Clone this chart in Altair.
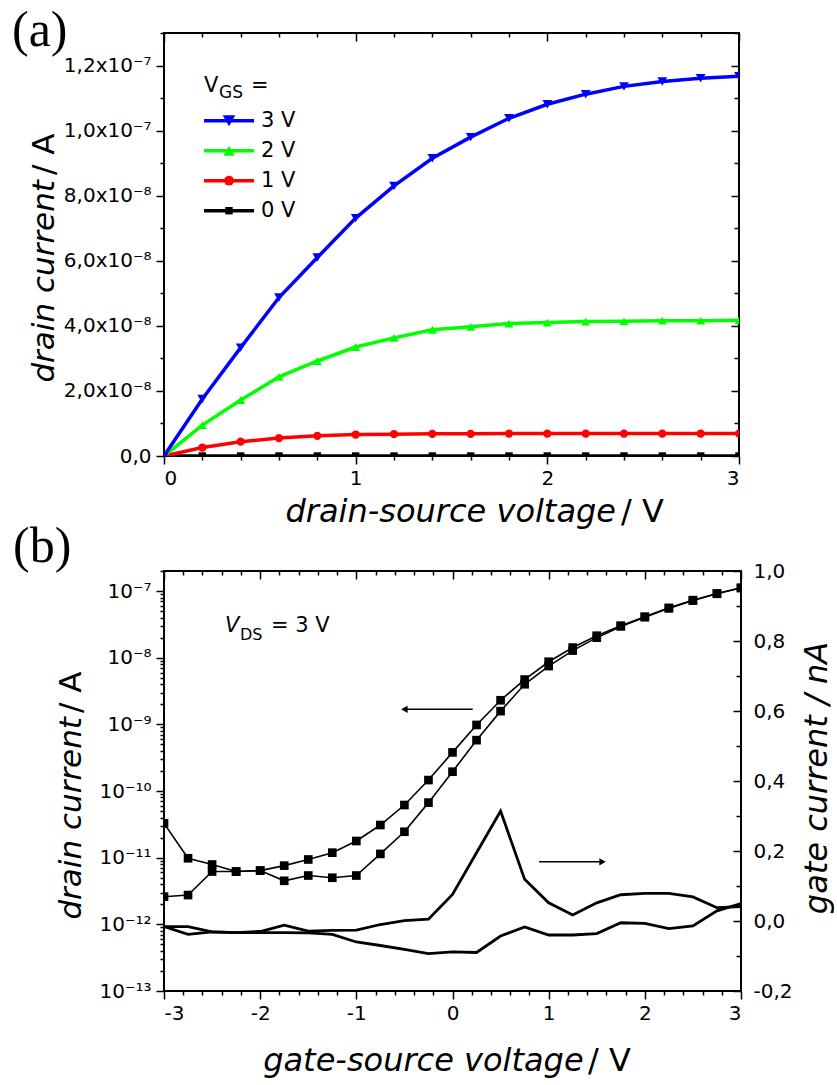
import json
import altair as alt
import pandas as pd

# ---------------- (a) output characteristics ----------------
vds = [0.0, 0.2, 0.4, 0.6, 0.8, 1.0, 1.2, 1.4, 1.6, 1.8, 2.0, 2.2, 2.4, 2.6, 2.8, 3.0]
id_vgs3 = [0.0, 1.75e-8, 3.33e-8, 4.87e-8, 6.10e-8, 7.31e-8, 8.30e-8, 9.15e-8, 9.80e-8,
           10.38e-8, 10.81e-8, 11.12e-8, 11.36e-8, 11.51e-8, 11.61e-8, 11.67e-8]
id_vgs2 = [0.0, 0.95e-8, 1.72e-8, 2.43e-8, 2.92e-8, 3.35e-8, 3.63e-8, 3.88e-8, 3.97e-8,
           4.07e-8, 4.10e-8, 4.13e-8, 4.14e-8, 4.16e-8, 4.16e-8, 4.17e-8]
id_vgs1 = [0.0, 0.26e-8, 0.44e-8, 0.55e-8, 0.62e-8, 0.66e-8, 0.67e-8, 0.68e-8, 0.68e-8,
           0.69e-8, 0.69e-8, 0.69e-8, 0.69e-8, 0.69e-8, 0.69e-8, 0.69e-8]
id_vgs0 = [0.0, 0.0, 0.0, 0.0, 0.0, 0.0, 0.0, 0.0, 0.0, 0.0, 0.0, 0.0, 0.0, 0.0, 0.0, 0.0]

series_a = ["0 V", "1 V", "2 V", "3 V"]
colors_a = ["#000000", "#FF0000", "#00FF00", "#0000FF"]
shapes_a = ["square", "circle", "triangle-up", "triangle-down"]
sizes_a = [55, 95, 130, 160]
curves_a = [id_vgs0, id_vgs1, id_vgs2, id_vgs3]

ylabels_a = ["0,0", "2,0x10⁻⁸", "4,0x10⁻⁸", "6,0x10⁻⁸", "8,0x10⁻⁸", "1,0x10⁻⁷", "1,2x10⁻⁷"]

# ---------------- (b) transfer characteristics ----------------
vgs = [-3.0, -2.75, -2.5, -2.25, -2.0, -1.75, -1.5, -1.25, -1.0, -0.75, -0.5, -0.25, 0.0,
       0.25, 0.5, 0.75, 1.0, 1.25, 1.5, 1.75, 2.0, 2.25, 2.5, 2.75, 3.0]
id_fwd = [3.27e-11, 9.8e-12, 7.9e-12, 6.2e-12, 6.4e-12, 7.6e-12, 9.4e-12, 1.19e-11, 1.78e-11,
          3.09e-11, 6.17e-11, 1.46e-10, 3.8e-10, 9.8e-10, 2.3e-9, 4.7e-9, 8.7e-9, 1.42e-8,
          2.14e-8, 3.03e-8, 4.13e-8, 5.6e-8, 7.3e-8, 9.2e-8, 1.12e-7]
id_rev = [2.6e-12, 2.75e-12, 6.2e-12, 6.2e-12, 6.4e-12, 4.5e-12, 5.4e-12, 5.0e-12, 5.4e-12,
          1.14e-11, 2.45e-11, 6.7e-11, 1.95e-10, 5.8e-10, 1.58e-9, 4.0e-9, 7.5e-9, 1.28e-8,
          2.0e-8, 2.95e-8, 4.05e-8, 5.5e-8, 7.2e-8, 9.1e-8, 1.11e-7]
ig_1 = [-0.016, -0.016, -0.031, -0.033, -0.030, -0.012, -0.029, -0.027, -0.026, -0.010,
        0.001, 0.005, 0.076, 0.195, 0.314, 0.119, 0.052, 0.017, 0.052, 0.075, 0.079, 0.079,
        0.069, 0.038, 0.041]
ig_2 = [-0.016, -0.038, -0.031, -0.033, -0.033, -0.033, -0.034, -0.038, -0.060, -0.070,
        -0.081, -0.093, -0.088, -0.090, -0.043, -0.017, -0.040, -0.040, -0.036, -0.005,
        -0.007, -0.022, -0.014, 0.029, 0.050]

log_labels = ["10⁻¹³", "10⁻¹²", "10⁻¹¹", "10⁻¹⁰", "10⁻⁹", "10⁻⁸", "10⁻⁷"]

arrow_left_x = [0.21, -0.50]
arrow_left_y = [1.68e-9]
arrow_right_x = [0.90, 1.56]
arrow_right_y = [0.169]

# ---------------- helpers ----------------
FONT = "DejaVu Sans"
dummy = pd.DataFrame({"d": [0]})


def txt(x, y, s, size=20, style="normal", align="left", baseline="alphabetic",
        angle=0, font=FONT):
    kw = dict(fontSize=size, fontStyle=style, align=align, baseline=baseline,
              font=font, color="black")
    if angle:
        kw["angle"] = angle
    return alt.Chart(dummy).mark_text(**kw).encode(
        x=alt.value(x), y=alt.value(y), text=alt.value(s))


# ---------------- panel (a) ----------------
WA, HA = 575, 423
rows = []
for name, ys in zip(series_a, curves_a):
    for xv, yv in zip(vds, ys):
        rows.append({"series": name, "vds": xv, "id": yv})
df_a = pd.DataFrame(rows)

xs_a = alt.Scale(domain=[0, 3], nice=False, zero=False)
ys_a = alt.Scale(domain=[0, 1.3e-7], nice=False)
col_a = alt.Scale(domain=series_a, range=colors_a)
shp_a = alt.Scale(domain=series_a, range=shapes_a)
siz_a = alt.Scale(domain=series_a, range=sizes_a)

xt_a = [round(i * 0.2, 1) for i in range(16)]
yt_a = [round(i * 1e-8, 10) for i in range(14)]
x_major = "abs(datum.value - round(datum.value)) < 0.001"
y_major_a = "abs(datum.value/2e-8 - round(datum.value/2e-8)) < 0.01"

ax_a_bottom = alt.Axis(orient="bottom", values=xt_a, title=None,
                       labelExpr=f"{x_major} ? toString(round(datum.value)) : ''",
                       tickSize={"condition": {"test": x_major, "value": 8}, "value": 4},
                       labelPadding=4)
ax_a_top = alt.Axis(orient="bottom", offset=-HA, values=xt_a, title=None, labels=False,
                    tickSize={"condition": {"test": x_major, "value": 8}, "value": 4})
ax_a_left = alt.Axis(orient="left", values=yt_a, title=None,
                     labelExpr=f"{y_major_a} ? {json.dumps(ylabels_a, ensure_ascii=False)}[round(datum.value/2e-8)] : ''",
                     tickSize={"condition": {"test": y_major_a, "value": 8}, "value": 4},
                     labelPadding=5)
ax_a_right = alt.Axis(orient="left", offset=-WA, values=yt_a, title=None, labels=False,
                      tickSize={"condition": {"test": y_major_a, "value": 8}, "value": 5})

lines_a = alt.Chart(df_a).mark_line(strokeWidth=3.5, clip=True).encode(
    x=alt.X("vds:Q", scale=xs_a, axis=ax_a_bottom),
    y=alt.Y("id:Q", scale=ys_a, axis=ax_a_left),
    color=alt.Color("series:N", scale=col_a, legend=None),
)
points_a = alt.Chart(df_a).mark_point(filled=True, opacity=1, clip=True).encode(
    x=alt.X("vds:Q", scale=xs_a, axis=ax_a_top),
    y=alt.Y("id:Q", scale=ys_a, axis=ax_a_right),
    color=alt.Color("series:N", scale=col_a, legend=None),
    shape=alt.Shape("series:N", scale=shp_a, legend=None),
    size=alt.Size("series:O", scale=siz_a, legend=None),
)

legend_layers = [
    txt(40, 59, "V", size=21),
    txt(55, 65, "GS", size=17),
    txt(87, 59, "=", size=21),
]
for i, idx in enumerate([3, 2, 1, 0]):
    yy = 87.7 + 30 * i
    c = colors_a[idx]
    legend_layers.append(alt.Chart(dummy).mark_rule(color=c, strokeWidth=3.5).encode(
        x=alt.value(40), x2=alt.value(90), y=alt.value(yy)))
    legend_layers.append(alt.Chart(dummy).mark_point(
        shape=shapes_a[idx], filled=True, opacity=1, size=sizes_a[idx], color=c).encode(
        x=alt.value(65), y=alt.value(yy)))
    legend_layers.append(txt(97, yy, series_a[idx], size=21, baseline="middle"))

titles_a = [
    txt(-152, 12.7, "(a)", size=50, font="Liberation Serif"),
    txt(452, 489, "drain-source voltage", size=32, style="italic", align="right"),
    txt(457, 489, "/ V", size=32),
    txt(-119, 147, "drain current", size=31, style="italic", align="right",
        baseline="middle", angle=270),
    txt(-119, 142, "/  A", size=31, align="left", baseline="middle", angle=270),
]

panel_a = alt.layer(lines_a, points_a, *legend_layers, *titles_a).resolve_axis(
    x="independent", y="independent").properties(width=WA, height=HA)

# ---------------- panel (b) ----------------
WB, HB = 577, 420
df_d = pd.DataFrame(
    [{"sweep": "fwd", "vgs": a, "id": b} for a, b in zip(vgs, id_fwd)] +
    [{"sweep": "rev", "vgs": a, "id": b} for a, b in zip(vgs, id_rev)])
df_g1 = pd.DataFrame({"vgs": vgs, "ig": ig_1})
df_g2 = pd.DataFrame({"vgs": vgs, "ig": ig_2})

xs_b = alt.Scale(domain=[-3, 3], nice=False, zero=False)
ys_log = alt.Scale(type="log", domain=[1e-13, 2e-7], nice=False)
ys_g = alt.Scale(domain=[-0.2, 1.0], nice=False, zero=False)

xt_b = [round(-3 + i * 0.2, 1) for i in range(31)]
yt_log = [m * 10.0 ** e for e in range(-13, -6) for m in range(1, 10) if m * 10.0 ** e <= 2.01e-7]
yt_g = [round(-0.2 + 0.1 * i, 1) for i in range(13)]
log_major = "abs(log(datum.value)/LN10 - round(log(datum.value)/LN10)) < 0.01"
g_major = "abs(datum.value*5 - round(datum.value*5)) < 0.001"

ax_b_bottom = alt.Axis(orient="bottom", values=xt_b, title=None,
                       labelExpr=f"{x_major} ? toString(round(datum.value)) : ''",
                       tickSize={"condition": {"test": x_major, "value": 8}, "value": 4},
                       labelPadding=4)
ax_b_top = alt.Axis(orient="bottom", offset=-HB, values=xt_b, title=None, labels=False,
                    tickSize={"condition": {"test": x_major, "value": 8}, "value": 4})
ax_b_left = alt.Axis(orient="left", values=yt_log, title=None,
                     labelExpr=f"{log_major} ? {json.dumps(log_labels, ensure_ascii=False)}[round(log(datum.value)/LN10) + 13] : ''",
                     tickSize={"condition": {"test": log_major, "value": 8}, "value": 4},
                     labelPadding=5)
ax_g_right = alt.Axis(orient="right", values=yt_g, title=None, ticks=False,
                      labelExpr=f"{g_major} ? replace(replace(format(datum.value, '.1f'), '.', ','), '\u2212', '-') : ''",
                      labelPadding=12)
ax_g_ticks = alt.Axis(orient="left", offset=-WB, values=yt_g, title=None, labels=False,
                      tickSize={"condition": {"test": g_major, "value": 8}, "value": 5})

drain_lines = alt.Chart(df_d).mark_line(color="black", strokeWidth=1.6, clip=True).encode(
    x=alt.X("vgs:Q", scale=xs_b, axis=ax_b_bottom),
    y=alt.Y("id:Q", scale=ys_log, axis=ax_b_left),
    detail="sweep:N",
)
drain_pts = alt.Chart(df_d).mark_point(shape="square", filled=True, opacity=1, size=75,
                                       color="black", clip=True).encode(
    x=alt.X("vgs:Q", scale=xs_b, axis=ax_b_bottom),
    y=alt.Y("id:Q", scale=ys_log, axis=ax_b_left),
)
df_arl = pd.DataFrame({"x0": [arrow_left_x[0]], "x1": [arrow_left_x[1]], "y": arrow_left_y})
arl_rule = alt.Chart(df_arl).mark_rule(color="black", strokeWidth=1.5).encode(
    x=alt.X("x0:Q", scale=xs_b, axis=ax_b_bottom), x2="x1:Q",
    y=alt.Y("y:Q", scale=ys_log, axis=ax_b_left))
arl_head = alt.Chart(df_arl).mark_point(shape="triangle-left", filled=True, opacity=1,
                                        size=55, color="black").encode(
    x=alt.X("x1:Q", scale=xs_b, axis=ax_b_bottom),
    y=alt.Y("y:Q", scale=ys_log, axis=ax_b_left))

texts_b = [
    txt(-151, -8.7, "(b)", size=50, font="Liberation Serif"),
    txt(61, 61, "V", size=21, style="italic"),
    txt(76, 69, "DS", size=16),
    txt(107, 61, "= 3 V", size=21),
    txt(419.6, 500, "gate-source voltage", size=32, style="italic", align="right"),
    txt(424, 500, "/ V", size=32),
    txt(-92, 146, "drain current", size=31, style="italic", align="right",
        baseline="middle", angle=270),
    txt(-92, 142, "/ A", size=31, align="left", baseline="middle", angle=270),
    txt(653, 207, "gate current / nA", size=32, style="italic", align="center",
        baseline="middle", angle=270),
]

drain_group = alt.layer(drain_lines, drain_pts, arl_rule, arl_head, *texts_b)

gate1 = alt.Chart(df_g1).mark_line(color="black", strokeWidth=2.8, clip=True).encode(
    x=alt.X("vgs:Q", scale=xs_b, axis=ax_b_top),
    y=alt.Y("ig:Q", scale=ys_g, axis=ax_g_right))
gate2 = alt.Chart(df_g2).mark_line(color="black", strokeWidth=2.8, clip=True).encode(
    x=alt.X("vgs:Q", scale=xs_b, axis=ax_b_top),
    y=alt.Y("ig:Q", scale=ys_g, axis=ax_g_ticks))
df_arr = pd.DataFrame({"x0": [arrow_right_x[0]], "x1": [arrow_right_x[1]], "y": arrow_right_y})
arr_rule = alt.Chart(df_arr).mark_rule(color="black", strokeWidth=1.5).encode(
    x=alt.X("x0:Q", scale=xs_b, axis=ax_b_top), x2="x1:Q",
    y=alt.Y("y:Q", scale=ys_g, axis=None))
arr_head = alt.Chart(df_arr).mark_point(shape="triangle-right", filled=True, opacity=1,
                                        size=55, color="black").encode(
    x=alt.X("x1:Q", scale=xs_b, axis=ax_b_top),
    y=alt.Y("y:Q", scale=ys_g, axis=None))

gate_group = alt.layer(gate1, gate2, arr_rule, arr_head).resolve_axis(y="independent")

panel_b = alt.layer(drain_group, gate_group).resolve_scale(y="independent").resolve_axis(
    x="independent", y="independent").properties(width=WB, height=HB)

chart = alt.vconcat(panel_a, panel_b, spacing=115, bounds="flush").properties(
    padding={"left": 11, "top": 4, "right": 0, "bottom": 0}
).configure_view(stroke="black", strokeWidth=2).configure_axis(
    labelFont=FONT, labelFontSize=20, labelColor="black", tickColor="black",
    tickWidth=1.5, domain=False, grid=False,
)

chart.save("out.html", embed_options={"renderer": "svg", "actions": False})
